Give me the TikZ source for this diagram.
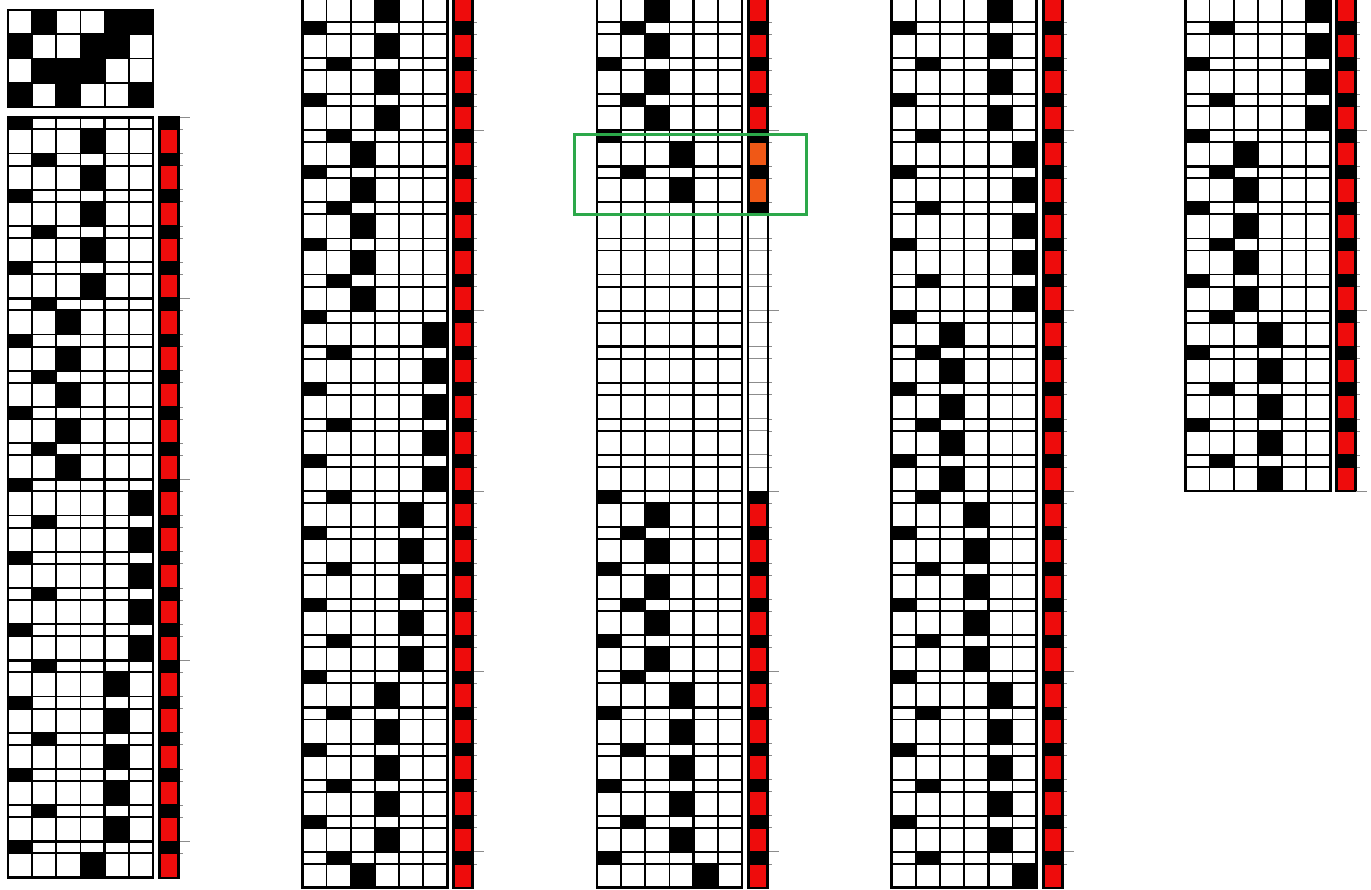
\documentclass[tikz,border=0pt]{standalone}
\definecolor{barred}{RGB}{238,12,12}
\definecolor{barorange}{RGB}{240,88,22}
\definecolor{boxgreen}{RGB}{44,168,74}
\definecolor{tickgray}{RGB}{140,140,140}
\newcommand\cw{24.1667}
\tikzset{
  gridline/.style={line width=1.9pt,black},
  heavyline/.style={line width=2.7pt,black},
  midline/.style={line width=2.5pt,black},
  outer/.style={line width=2.9pt,black},
  barline/.style={line width=2pt,black},
  barin/.style={line width=0.9pt,tickgray},
  smalltick/.style={line width=0.7pt,tickgray},
  longtick/.style={line width=1pt,tickgray},
  cellfill/.style={fill=black},
  greenbox/.style={draw=boxgreen,line width=3pt},
}
% #1 x0, #2 y0, #3 period, #4 rows, #5 long-tick residue, #6 row list thin/tall/bar
\newcommand\mystrip[6]{%
 \pgfmathsetmacro\ybot{#2+#4*#3}%
 \pgfmathsetmacro\xba{#1+151}%
 \pgfmathsetmacro\xbb{#1+171}%
 \pgfmathsetmacro\xr{#1+145}%
 \foreach \thn/\tln/\bcn [count=\rr from 0] in {#6} {%
   \pgfmathsetmacro\ya{#2+\rr*#3}%
   \pgfmathsetmacro\yb{\ya+#3/3}%
   \pgfmathsetmacro\yc{\ya+#3}%
   \pgfmathtruncatemacro\rmod{mod(\rr,5)}%
   \ifnum\thn>0 \fill[cellfill] ({#1+(\thn-1)*\cw},\ya) rectangle ({#1+\thn*\cw},\yb);\fi
   \ifnum\tln>0 \fill[cellfill] ({#1+(\tln-1)*\cw},\yb) rectangle ({#1+\tln*\cw},\yc);\fi
   \ifcase\bcn\relax
     \fill[cellfill] (\xba,\ya) rectangle (\xbb,\yc);
     \fill[barred] ({\xba+2},{\yb+0.8}) rectangle ({\xbb-2},{\yc-0.8});
   \or
     \fill[cellfill] (\xba,\ya) rectangle (\xbb,\yc);
     \fill[barorange] ({\xba+2},{\yb+0.8}) rectangle ({\xbb-2},{\yc-0.8});
   \or
     \fill[cellfill] (\xba,\ya) rectangle (\xbb,\yb);
     \draw[barin] (\xba,\yc) -- (\xbb,\yc);
   \or
     \draw[barin] (\xba,\yb) -- (\xbb,\yb) (\xba,\yc) -- (\xbb,\yc);
   \fi
   \draw[gridline] (#1,\yb) -- (\xr,\yb);
   \ifnum\rr>0
     \ifnum\rmod=0 \draw[heavyline] (#1,\ya) -- (\xr,\ya);
     \else \draw[gridline] (#1,\ya) -- (\xr,\ya);\fi
   \fi
   \draw[smalltick] (\xbb,\ya) -- ({\xbb+4},\ya) (\xbb,\yb) -- ({\xbb+4},\yb);
   \ifnum\rmod=#5 \draw[longtick] (\xbb,\ya) -- ({\xbb+11},\ya);\fi
 }%
 \foreach \k in {1,2,3,5} \draw[gridline] ({#1+\k*\cw},#2) -- ({#1+\k*\cw},\ybot);
 \draw[midline] ({#1+4*\cw},#2) -- ({#1+4*\cw},\ybot);
 \draw[outer] (#1,#2) rectangle (\xr,\ybot);
 \draw[barline] (\xba,#2) rectangle (\xbb,\ybot);
}
\begin{document}
\begin{tikzpicture}[x=1pt,y=-1pt]
\useasboundingbox (0,0) rectangle (1371,890);
\clip (0,0) rectangle (1371,890);
\fill[white] (0,0) rectangle (1371,890);
% top matrix
\foreach \c/\rw in {2/1,5/1,6/1,1/2,4/2,5/2,2/3,3/3,4/3,1/4,3/4,6/4}
  \fill[cellfill] ({8+(\c-1)*\cw},{10+(\rw-1)*24.25}) rectangle ++(\cw,24.25);
\foreach \k in {1,...,5} \draw[gridline] ({8+\k*\cw},10) -- ({8+\k*\cw},107);
\foreach \k in {1,2,3} \draw[gridline] (8,{10+\k*24.25}) -- (153,{10+\k*24.25});
\draw[outer] (8,10) rectangle (153,107);
% strip 1
\mystrip{8}{117.3}{36.2}{21}{0}{1/4/0,2/4/0,1/4/0,2/4/0,1/4/0,2/3/0,1/3/0,2/3/0,1/3/0,2/3/0,1/6/0,2/6/0,1/6/0,2/6/0,1/6/0,2/5/0,1/5/0,2/5/0,1/5/0,2/5/0,1/4/0}
% strip 2
\mystrip{302.3}{-14.1}{36.08}{25}{4}{2/4/0,1/4/0,2/4/0,1/4/0,2/3/0,1/3/0,2/3/0,1/3/0,2/3/0,1/6/0,2/6/0,1/6/0,2/6/0,1/6/0,2/5/0,1/5/0,2/5/0,1/5/0,2/5/0,1/4/0,2/4/0,1/4/0,2/4/0,1/4/0,2/3/0}
% strip 3
\mystrip{597}{-14.1}{36.08}{25}{4}{1/3/0,2/3/0,1/3/0,2/3/0,1/4/1,2/4/1,0/0/2,0/0/3,0/0/3,0/0/3,0/0/3,0/0/3,0/0/3,0/0/3,1/3/0,2/3/0,1/3/0,2/3/0,1/3/0,2/4/0,1/4/0,2/4/0,1/4/0,2/4/0,1/5/0}
% strip 4
\mystrip{891.7}{-14.1}{36.08}{25}{4}{2/5/0,1/5/0,2/5/0,1/5/0,2/6/0,1/6/0,2/6/0,1/6/0,2/6/0,1/3/0,2/3/0,1/3/0,2/3/0,1/3/0,2/4/0,1/4/0,2/4/0,1/4/0,2/4/0,1/5/0,2/5/0,1/5/0,2/5/0,1/5/0,2/6/0}
% strip 5
\mystrip{1185.3}{-14.1}{36.08}{14}{4}{1/6/0,2/6/0,1/6/0,2/6/0,1/3/0,2/3/0,1/3/0,2/3/0,1/3/0,2/4/0,1/4/0,2/4/0,1/4/0,2/4/0}
\draw[longtick] (1356.3,491) -- (1367.3,491);
% green highlight box
\draw[greenbox] (574,134.5) rectangle (806,215);
\end{tikzpicture}
\end{document}
